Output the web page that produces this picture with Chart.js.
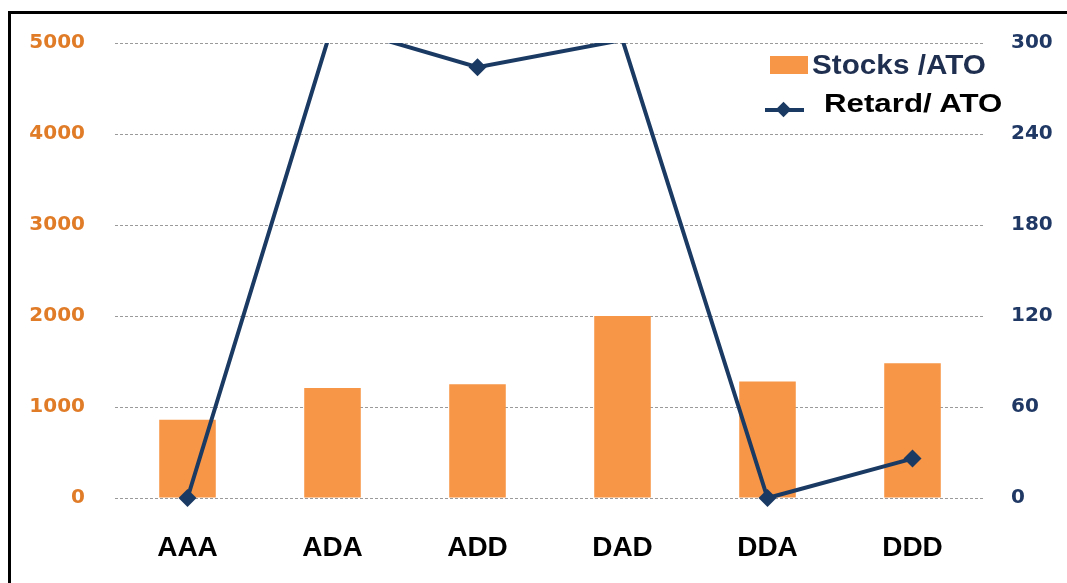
<!DOCTYPE html>
<html>
<head>
<meta charset="utf-8">
<script src="https://cdn.jsdelivr.net/npm/chart.js@4/dist/chart.umd.min.js"></script>
<style>
  html, body { margin: 0; padding: 0; background: #fff; }
  #wrap { position: relative; width: 1067px; height: 583px; overflow: hidden; }
  #frame { position: absolute; left: 8px; top: 11px; width: 1100px; height: 600px;
           border-left: 3px solid #000; border-top: 3px solid #000; }
  .leg { position: absolute; font-family: "Liberation Sans", Arial, sans-serif; font-weight: bold;
         white-space: nowrap; transform-origin: left center; }
  #sw1 { position: absolute; left: 770px; top: 56px; width: 38px; height: 18px; background: #F79646; }
  #lg1 { left: 812px; top: 50px; font-size: 27px; color: #1F2F4F; transform: scaleX(1.1); }
  #ln2 { position: absolute; left: 765px; top: 108px; width: 39px; height: 4px; background: #1B3A63; }
  #dm2 { position: absolute; left: 778px; top: 104px; width: 11px; height: 11px; background: #1B3A63;
         transform: rotate(45deg); }
  #lg2 { left: 824px; top: 89px; font-size: 25px; color: #000; transform: scaleX(1.25); }
</style>
</head>
<body>
<div id="wrap">
  <canvas id="chart1" width="1067" height="583"></canvas>
  <div id="frame"></div>
  <div id="sw1"></div>
  <div class="leg" id="lg1">Stocks /ATO</div>
  <div id="ln2"></div>
  <div id="dm2"></div>
  <div class="leg" id="lg2">Retard/ ATO</div>
</div>
<script>
var categories = ["AAA", "ADA", "ADD", "DAD", "DDA", "DDD"];
var stocksAto = [860, 1210, 1250, 2000, 1280, 1480];
var retardAto = [0, 312, 284, 302, 0, 26];
var leftTicks = [0, 1000, 2000, 3000, 4000, 5000];
var rightTicks = [0, 60, 120, 180, 240, 300];

var navy = "#1B3A63";

var chart = new Chart("chart1", {
  type: "bar",
  data: {
    labels: categories,
    datasets: [
      {
        type: "line",
        label: "Retard/ ATO",
        data: retardAto,
        yAxisID: "y1",
        borderColor: navy,
        backgroundColor: navy,
        borderWidth: 4,
        pointStyle: "rectRot",
        // markers above the axis maximum are cut off like in the original
        pointRadius: function (ctx) {
          return ctx.raw > 300 ? 0 : 9;
        },
        pointBorderWidth: 0,
        tension: 0,
        clip: { left: false, right: false, top: 0, bottom: false },
        order: 0,
      },
      {
        label: "Stocks /ATO",
        data: stocksAto,
        yAxisID: "y",
        backgroundColor: "#F79646",
        barPercentage: 0.39,
        categoryPercentage: 1,
        order: 1,
      },
    ],
  },
  options: {
    responsive: false,
    animation: false,
    layout: { padding: { top: 43, left: 0, right: 0, bottom: 0 } },
    plugins: {
      legend: { display: false },
      tooltip: { enabled: false },
    },
    scales: {
      x: {
        grid: { display: false, drawTicks: false },
        border: { display: false },
        ticks: {
          padding: 33,
          color: "#000",
          font: { family: "Liberation Sans", size: 28, weight: "bold" },
        },
        afterFit: function (scale) {
          scale.height = 85;
        },
      },
      y: {
        position: "left",
        min: 0,
        max: 5000,
        afterBuildTicks: function (scale) {
          scale.ticks = leftTicks.map(function (v) {
            return { value: v };
          });
        },
        grid: { color: "#9a9a9a", lineWidth: 1, drawTicks: false },
        border: { display: false, dash: [3, 2] },
        ticks: {
          padding: 30,
          color: "#E07B28",
          font: { family: "DejaVu Sans", size: 20, weight: "bold" },
          callback: function (v) {
            return String(v);
          },
        },
        afterFit: function (scale) {
          scale.width = 115;
        },
      },
      y1: {
        position: "right",
        min: 0,
        max: 300,
        afterBuildTicks: function (scale) {
          scale.ticks = rightTicks.map(function (v) {
            return { value: v };
          });
        },
        grid: { drawOnChartArea: false, drawTicks: false },
        border: { display: false },
        ticks: {
          padding: 26,
          color: "#1F3864",
          font: { family: "DejaVu Sans", size: 20, weight: "bold" },
          callback: function (v) {
            return String(v);
          },
        },
        afterFit: function (scale) {
          scale.width = 82;
        },
      },
    },
  },
});
</script>
</body>
</html>
